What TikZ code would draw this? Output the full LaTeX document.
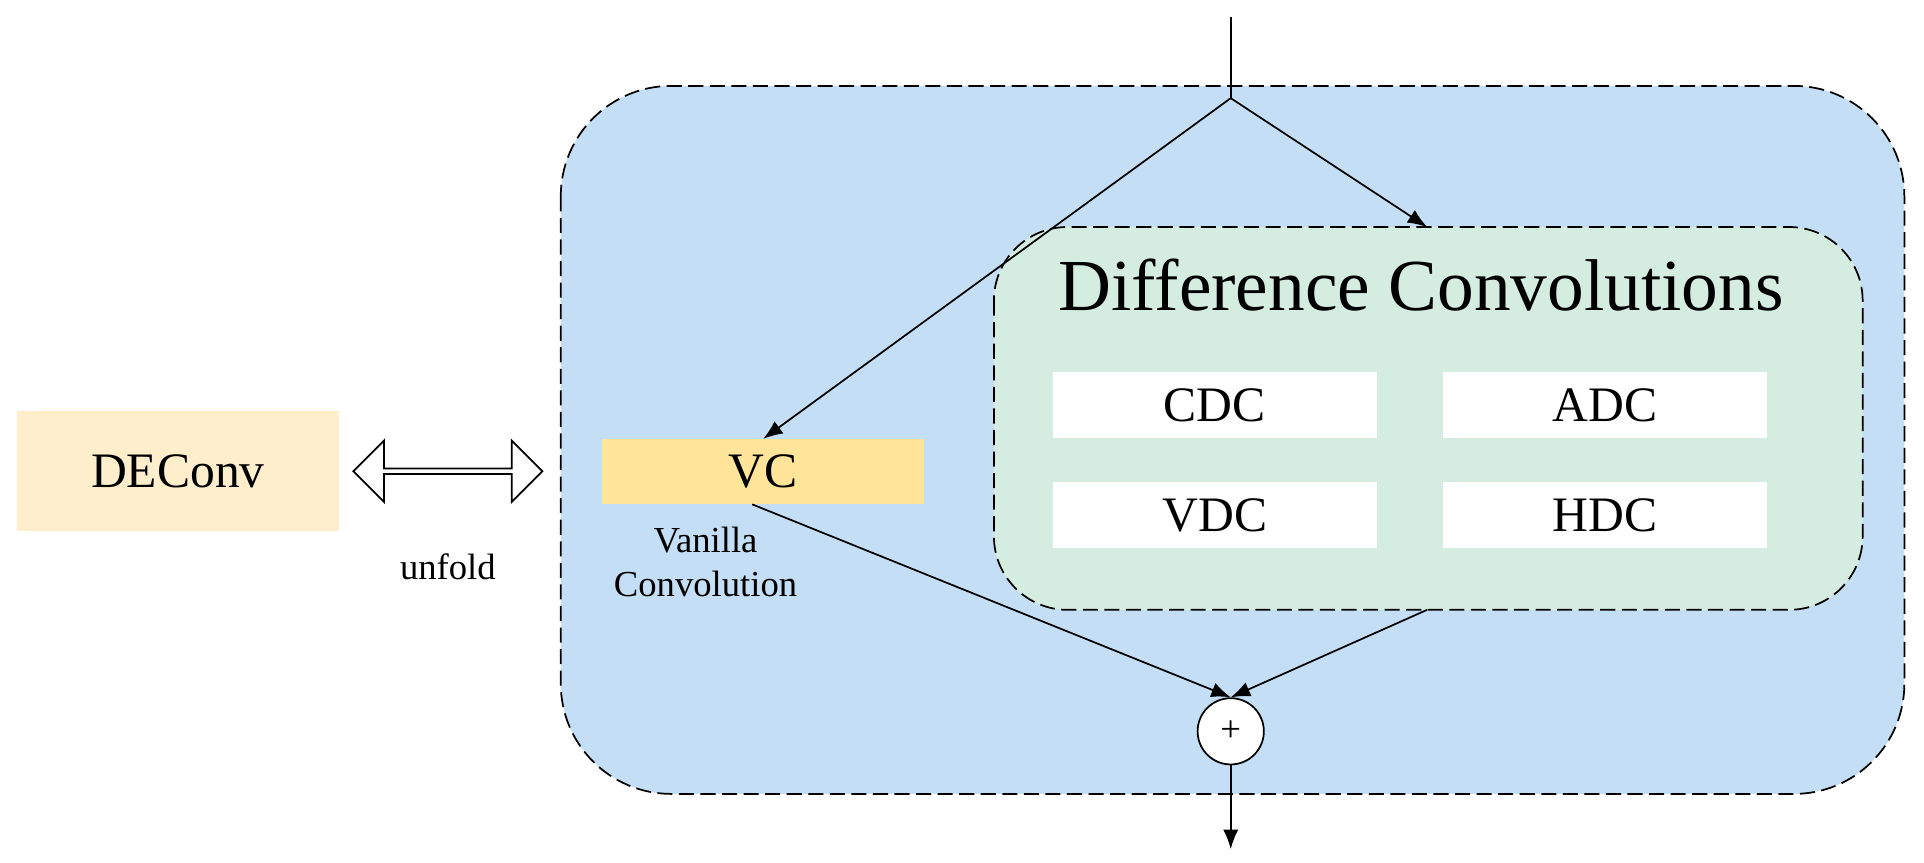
\documentclass[tikz,border=0pt]{standalone}
\usepackage{fontspec}
\setmainfont{Liberation Serif}
\usetikzlibrary{shapes.arrows,arrows.meta}
\definecolor{bblue}{RGB}{196,222,245}
\definecolor{bgreen}{RGB}{213,237,225}
\definecolor{vcy}{RGB}{255,228,153}
\definecolor{dec}{RGB}{255,238,204}
\begin{document}
\begin{tikzpicture}[x=0.02cm,y=-0.02cm,
  dashbox/.style={draw,dash pattern=on 7pt off 3pt,line width=0.8pt},
  wb/.style={fill=white,minimum width=264*0.02cm,minimum height=54*0.02cm,font=\fontsize{23}{26}\selectfont},
  arr/.style={-{Latex[length=9pt,width=7pt]},line width=0.8pt}]
\useasboundingbox (0,0) rectangle (1568,703);
\path[dashbox,fill=bblue,rounded corners=90*0.02cm] (457,70) rectangle (1552,647);
\path[dashbox,fill=bgreen,rounded corners=60*0.02cm] (810,185) rectangle (1518,497);
\node[font=\fontsize{34}{38}\selectfont] (title) at (1158,232) {Difference Convolutions};
\node[wb] (cdc) at (990,330) {CDC};
\node[wb] (adc) at (1308,330) {ADC};
\node[wb] (vdc) at (990,420) {VDC};
\node[wb] (hdc) at (1308,420) {HDC};
\node[fill=vcy,minimum width=262*0.02cm,minimum height=53*0.02cm,font=\fontsize{23}{26}\selectfont] (vc) at (622,384.5) {VC};
\node[align=center,font=\fontsize{17}{20}\selectfont] (van) at (575,458) {Vanilla\\Convolution};
\node[fill=dec,minimum width=262*0.02cm,minimum height=98*0.02cm,font=\fontsize{23}{26}\selectfont] (de) at (145,384) {DEConv};
\node[double arrow,draw,fill=white,line width=0.8pt,minimum width=50*0.02cm,double arrow head extend=7*0.02cm,minimum height=154*0.02cm,inner sep=0pt] (da) at (365,384) {};
\node[font=\fontsize{17}{20}\selectfont] (unf) at (365,462) {unfold};
\coordinate (top) at (1003,14);
\coordinate (br) at (1003,80);
\coordinate (gt) at (1163,185);
\coordinate (gb) at (1163,497);
\coordinate (out) at (1003,692);
\node[circle,draw,fill=white,line width=0.8pt,minimum size=54*0.02cm,inner sep=0pt,font=\fontsize{17}{20}\selectfont] (sum) at (1003,596) {+};
\draw[line width=0.8pt] (top) -- (br);
\draw[arr] (br) -- (vc.north);
\draw[arr] (br) -- (gt);
\draw[arr] (613,411) -- (sum.north);
\draw[arr] (gb) -- (sum.north);
\draw[arr] (sum.south) -- (out);
\end{tikzpicture}
\end{document}
